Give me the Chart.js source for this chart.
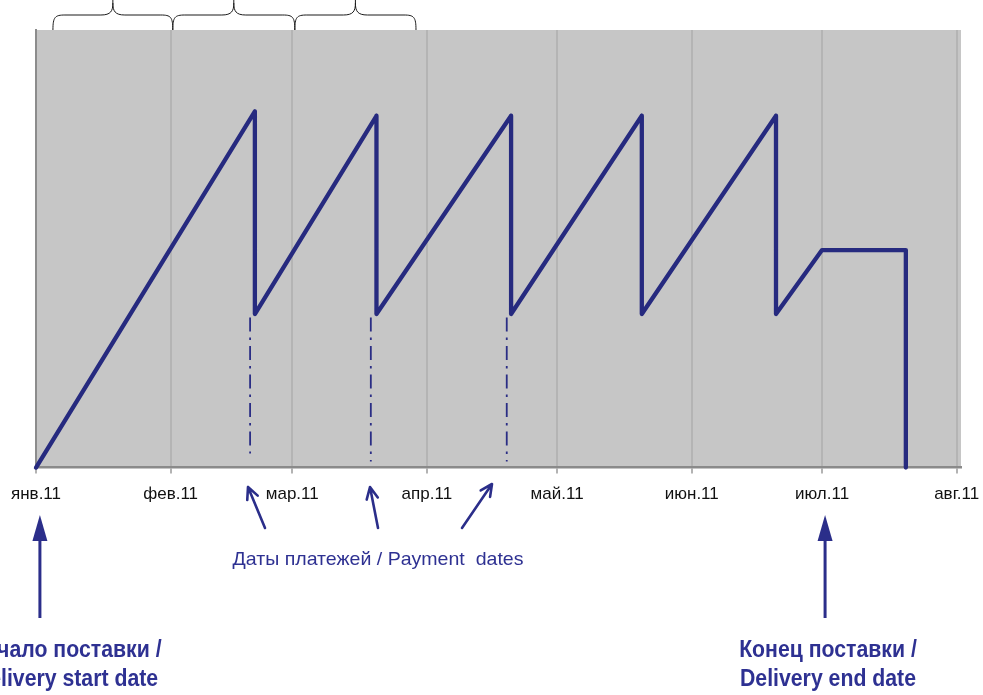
<!DOCTYPE html>
<html><head><meta charset="utf-8">
<script src="https://cdn.jsdelivr.net/npm/chart.js@4/dist/chart.umd.min.js"></script>
<style>html,body{margin:0;padding:0;background:#fff;}#wrap{width:983px;height:695px;position:relative;}</style>
</head><body><div id="wrap"><canvas id="c"></canvas></div>
<script>
// ---- data (days counted from 1 Jan 2011) ----
const monthTicks = [0, 31, 59, 90, 120, 151, 181, 212];
const monthLabels = ['янв.11', 'фев.11', 'мар.11', 'апр.11', 'май.11', 'июн.11', 'июл.11', 'авг.11'];
const balanceDays = [0, 50.4, 50.4, 78.4, 78.4, 109.4, 109.4, 139.5, 139.5, 170.4, 170.4, 181, 200.3, 200.3];
const balanceValues = [0, 81.4, 35.1, 80.4, 35.1, 80.4, 35.1, 80.4, 35.1, 80.4, 35.1, 49.7, 49.7, 0];
const paymentDays = [49.3, 77.1, 108.4];
const paymentTop = [34.3, 34.3, 34.3];
const paymentBottom = [3.2, 1.4, 1.4];
const braceEdges = [3.9, 31.5, 59.6, 87.5];
const paymentLabel = 'Даты платежей / Payment  dates';
const startLabel = ['Начало поставки /', 'Delivery start date'];
const endLabel = ['Конец поставки /', 'Delivery end date'];

function hasFont(f) {
  const c = document.createElement('canvas').getContext('2d');
  c.font = '40px monospace';
  const w1 = c.measureText('янв.11 Delivery').width;
  c.font = '40px "' + f + '", monospace';
  return Math.abs(c.measureText('янв.11 Delivery').width - w1) > 0.5;
}
const narrow = hasFont('Liberation Sans Narrow');
const tickFont = narrow ? {family: '"Liberation Sans Narrow", "Liberation Sans", Arial', size: 20}
                        : {family: '"Liberation Sans", Arial', size: 17};

const NAVY = '#262a7f';
const BLUE = '#2e3192';

function drawScaledText(ctx, str, cx, baseY, font, color, targetW) {
  ctx.save();
  ctx.font = font;
  ctx.fillStyle = color;
  ctx.textAlign = 'center';
  ctx.textBaseline = 'alphabetic';
  const w = ctx.measureText(str).width;
  const s = targetW ? targetW / w : 1;
  ctx.translate(cx, baseY);
  ctx.scale(s, 1);
  ctx.fillText(str, 0, 0);
  ctx.restore();
}

function openArrow(ctx, x0, y0, x1, y1) {
  const ang = Math.atan2(y1 - y0, x1 - x0);
  const L = 13, A = 0.45;
  ctx.beginPath();
  ctx.moveTo(x0, y0); ctx.lineTo(x1, y1);
  ctx.moveTo(x1 - L * Math.cos(ang - A), y1 - L * Math.sin(ang - A));
  ctx.lineTo(x1, y1);
  ctx.lineTo(x1 - L * Math.cos(ang + A), y1 - L * Math.sin(ang + A));
  ctx.stroke();
}

function bigArrow(ctx, x, yTip, yTail) {
  ctx.beginPath();
  ctx.moveTo(x, yTail); ctx.lineTo(x, yTip + 20);
  ctx.stroke();
  ctx.beginPath();
  ctx.moveTo(x, yTip); ctx.lineTo(x - 7.5, yTip + 26); ctx.lineTo(x + 7.5, yTip + 26); ctx.closePath();
  ctx.fill();
}

const annot = {
  id: 'annot',
  beforeDraw(chart) {
    const {ctx, chartArea: a} = chart;
    ctx.save();
    ctx.fillStyle = '#c6c6c6';
    ctx.fillRect(a.left, a.top, a.right - a.left, a.bottom - a.top);
    ctx.restore();
  },
  afterDraw(chart) {
    const {ctx, chartArea: a} = chart;
    const x = chart.scales.x;
    ctx.save();
    // braces on top
    ctx.strokeStyle = '#1a1a1a';
    ctx.lineWidth = 1;
    const yh = 15, r = 12;
    for (let i = 0; i < braceEdges.length - 1; i++) {
      const x1 = x.getPixelForValue(braceEdges[i]);
      const x2 = x.getPixelForValue(braceEdges[i + 1]);
      const xm = (x1 + x2) / 2;
      ctx.beginPath();
      ctx.moveTo(x1, a.top);
      ctx.bezierCurveTo(x1, yh + 2, x1 + 2, yh, x1 + r, yh);
      ctx.lineTo(xm - r, yh);
      ctx.bezierCurveTo(xm - 2, yh, xm, yh - 4, xm, yh - 12);
      ctx.lineTo(xm, -5);
      ctx.moveTo(xm, yh - 12);
      ctx.bezierCurveTo(xm, yh - 4, xm + 2, yh, xm + r, yh);
      ctx.lineTo(x2 - r, yh);
      ctx.bezierCurveTo(x2 - 2, yh, x2, yh + 2, x2, a.top);
      ctx.stroke();
    }
    // payment arrows
    ctx.strokeStyle = '#2b2e8a';
    ctx.fillStyle = '#2b2e8a';
    ctx.lineWidth = 2.6;
    ctx.lineCap = 'round';
    ctx.lineJoin = 'round';
    openArrow(ctx, 265, 528, 248, 487);
    openArrow(ctx, 378, 528, 370, 487);
    openArrow(ctx, 462, 528, 492, 484);
    drawScaledText(ctx, paymentLabel, 378, 565, '19px "Liberation Sans", Arial', BLUE, 291);
    // delivery arrows
    ctx.lineWidth = 3;
    ctx.lineCap = 'butt';
    bigArrow(ctx, x.getPixelForValue(0.9), 515, 618);
    bigArrow(ctx, x.getPixelForValue(181.7), 515, 618);
    const bf = 'bold 24px "Liberation Sans", Arial';
    ctx.font = bf;
    const sc = 176 / ctx.measureText(endLabel[1]).width;
    const wS0 = ctx.measureText(startLabel[0]).width * sc;
    const wS1 = ctx.measureText(startLabel[1]).width * sc;
    const wE0 = ctx.measureText(endLabel[0]).width * sc;
    drawScaledText(ctx, startLabel[0], 66, 657, bf, BLUE, wS0);
    drawScaledText(ctx, startLabel[1], 66, 686, bf, BLUE, wS1);
    drawScaledText(ctx, endLabel[0], 828, 657, bf, BLUE, wE0);
    drawScaledText(ctx, endLabel[1], 828, 686, bf, BLUE, 176);
    ctx.restore();
  }
};

const datasets = [{
  data: balanceDays.map((d, i) => ({x: d, y: balanceValues[i]})),
  borderColor: NAVY, borderWidth: 4.3, pointRadius: 0, tension: 0,
  borderJoinStyle: 'round', borderCapStyle: 'round', clip: false, order: 0
}];
paymentDays.forEach((d, i) => datasets.push({
  data: [{x: d, y: paymentTop[i]}, {x: d, y: paymentBottom[i]}],
  borderColor: '#2a2d85', borderWidth: 1.8, borderDash: [14, 6, 2.5, 6],
  pointRadius: 0, clip: false, order: 1
}));

new Chart(document.getElementById('c'), {
  type: 'line',
  data: {datasets},
  options: {
    responsive: true, maintainAspectRatio: false, animation: false,
    layout: {padding: {left: 36, right: 22, top: 30, bottom: 179}},
    plugins: {legend: {display: false}, tooltip: {enabled: false}},
    scales: {
      x: {
        type: 'linear', min: 0, max: 213,
        afterBuildTicks: s => { s.ticks = monthTicks.map(v => ({value: v})); },
        afterFit: s => { s.paddingLeft = 0; s.paddingRight = 0; },
        ticks: {callback: (v, i) => monthLabels[i], color: '#111', font: tickFont, padding: 11, maxRotation: 0, autoSkip: false},
        grid: {color: '#b4b4b4', lineWidth: 2, tickLength: 6, tickColor: '#9a9a9a', tickWidth: 1.5},
        border: {color: '#8a8a8a', width: 2.5}
      },
      y: {
        min: 0, max: 100,
        ticks: {display: false},
        grid: {display: false, drawTicks: false},
        border: {color: '#8c8c8c', width: 2}
      }
    }
  },
  plugins: [annot]
});
</script>
</body></html>
